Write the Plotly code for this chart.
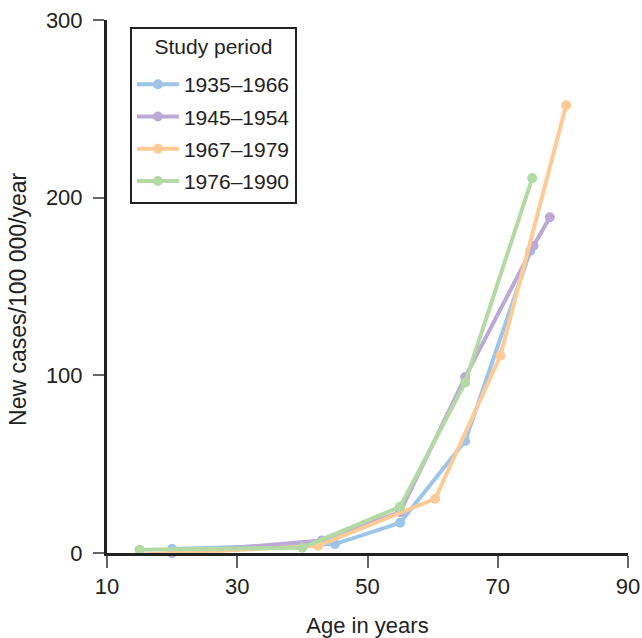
import plotly.graph_objects as go

series_names = ["1935–1966", "1945–1954", "1967–1979", "1976–1990"]
ages_1935 = [20, 45, 55, 65, 75]
cases_1935 = [2.2, 5, 17, 63, 170]
ages_1945 = [20, 43, 55, 65, 75.5, 78]
cases_1945 = [0, 7, 23, 99, 173, 189]
ages_1967 = [15, 42.4, 60.4, 70.4, 80.5]
cases_1967 = [-1, 4, 30.5, 111, 252]
ages_1976 = [15, 40, 55, 65, 75.3]
cases_1976 = [1.8, 3, 26, 96, 211]
colors = ["#9ec5e8", "#bcaad6", "#fecb96", "#b3d9a4"]

xs = [ages_1935, ages_1945, ages_1967, ages_1976]
ys = [cases_1935, cases_1945, cases_1967, cases_1976]

fig = go.Figure()
for i, (name, x, y, c) in enumerate(zip(series_names, xs, ys, colors)):
    fig.add_trace(go.Scatter(
        x=x, y=y, name=name, mode="lines+markers",
        line=dict(color=c, width=4),
        marker=dict(color=c, size=10),
        legendgroup=f"g{i}", cliponaxis=False,
    ))

font_family = "Liberation Sans, Arial, sans-serif"
fig.update_layout(
    width=642, height=638,
    margin=dict(l=107, r=14, t=20, b=85),
    paper_bgcolor="white", plot_bgcolor="white",
    font=dict(family=font_family, size=21, color="#222"),
    showlegend=True,
    legend=dict(
        x=0.044, y=0.987, xanchor="left", yanchor="top",
        bordercolor="#222", borderwidth=2, bgcolor="white",
        title=dict(text="<span style='font-size:21px;baseline-shift:10px'>Study period</span>",
                   side="top center", font=dict(size=27)),
        font=dict(size=21), tracegroupgap=2, traceorder="grouped",
        itemwidth=42,
    ),
    xaxis=dict(
        range=[10, 90], tickvals=[10, 30, 50, 70, 90],
        showgrid=False, zeroline=False, automargin=False,
        showline=True, linecolor="#222", linewidth=3,
        ticks="outside", ticklen=12, tickcolor="#666", tickwidth=1.5,
        title=dict(text="Age in years", standoff=21, font=dict(size=22)),
        tickfont=dict(size=22),
    ),
    yaxis=dict(
        range=[0, 300], tickvals=[0, 100, 200, 300],
        showgrid=False, zeroline=False, automargin=False,
        showline=True, linecolor="#222", linewidth=3,
        ticks="outside", ticklen=11, tickcolor="#666", tickwidth=1.5,
        ticklabelstandoff=6,
        tickfont=dict(size=22),
    ),
    annotations=[dict(
        text="New cases/100 000/year", textangle=-90,
        xref="paper", yref="paper", x=-0.171, y=0.4765,
        xanchor="center", yanchor="middle", showarrow=False,
        font=dict(size=23),
    )],
)

fig.write_html(
    "out.html",
    config={"displayModeBar": False},
    post_script="document.body.style.margin='0';document.body.style.padding='0';",
)
